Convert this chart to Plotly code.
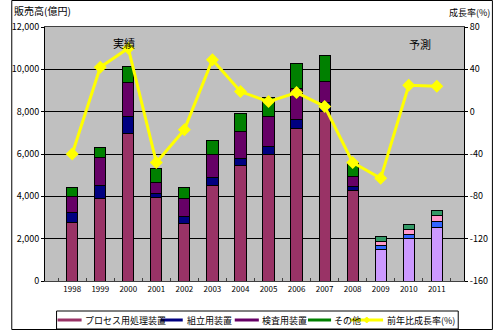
import plotly.graph_objects as go

years = ['1998', '1999', '2000', '2001', '2002', '2003', '2004',
         '2005', '2006', '2007', '2008', '2009', '2010', '2011']
forecast_years = ['2009', '2010', '2011']

process = [2780, 3900, 6970, 3940, 2740, 4520, 5440, 5990, 7210, 7990, 4260, 1500, 2000, 2550]
assembly = [440, 630, 820, 190, 330, 350, 350, 360, 440, 420, 220, 200, 190, 240]
inspection = [760, 1310, 1610, 520, 850, 1110, 1290, 1430, 1450, 1030, 470, 190, 250, 320]
other = [440, 470, 720, 680, 490, 680, 840, 880, 1180, 1230, 630, 190, 240, 240]
growth = [-40, 42, 60, -48, -17, 49, 19, 9.5, 18, 5, -48, -63, 25, 24]

names = ['プロセス用処理装置', '組立用装置', '検査用装置', 'その他']
line_name = '前年比成長率(%)'
actual_colors = ['#993366', '#000080', '#660066', '#008000']
forecast_colors = ['#cc99ff', '#3366ff', '#ff99cc', '#339966']

left_ticks = [0, 2000, 4000, 6000, 8000, 10000, 12000]
right_ticks = [-160, -120, -80, -40, 0, 40, 80]
right_labels = ['-160', '-120', '-80', '-40', '0', '40', '80']

FONT = 'Noto Sans CJK JP'

# plot area pixel geometry
L, R, T, B = 35, 470, 27, 281
W, H = 500, 330


def px(x):
    return (x - L) / (R - L)


def py(y):
    return (B - y) / (B - T)


fig = go.Figure()
series = [process, assembly, inspection, other]
for name, vals, ca, cf in zip(names, series, actual_colors, forecast_colors):
    cols = [cf if y in forecast_years else ca for y in years]
    fig.add_trace(go.Bar(
        x=years, y=vals, name=name, width=0.4,
        marker=dict(color=cols, line=dict(color='#000000', width=1)),
        showlegend=False,
    ))

fig.add_trace(go.Scatter(
    x=years, y=growth, name=line_name, yaxis='y2', mode='lines+markers',
    line=dict(color='#ffff00', width=3),
    marker=dict(symbol='diamond', size=10, color='#ffff00'),
    showlegend=False,
))

shapes = []
annotations = []

# outer border
shapes.append(dict(type='rect', xref='paper', yref='paper',
                   x0=px(0.5), x1=px(W - 0.5), y0=py(H - 0.5), y1=py(0.5),
                   line=dict(color='#000000', width=1)))

# custom legend (Excel-style line swatches)
shapes.append(dict(type='rect', xref='paper', yref='paper',
                   x0=px(47), x1=px(464), y0=py(329), y1=py(311),
                   line=dict(color='#000000', width=1), fillcolor='#ffffff', layer='above'))
legend_items = [
    (names[0], actual_colors[0], 48, 73, 74),
    (names[1], actual_colors[1], 155, 178, 180),
    (names[2], actual_colors[2], 232, 257, 258),
    (names[3], actual_colors[3], 308, 332, 333),
    (line_name, '#ffff00', 352, 386, 388),
]
ly = 320
for nm, col, x0, x1, tx in legend_items:
    shapes.append(dict(type='line', xref='paper', yref='paper',
                       x0=px(x0), x1=px(x1), y0=py(ly), y1=py(ly),
                       line=dict(color=col, width=3), layer='above'))
    annotations.append(dict(xref='paper', yref='paper', x=px(tx), y=py(ly),
                            text=nm, showarrow=False, xanchor='left', yanchor='middle',
                            font=dict(family=FONT, size=9, color='#000000')))
shapes.append(dict(type='path', xref='paper', yref='paper', layer='above',
                   path=f'M {px(369)},{py(317)} L {px(372)},{py(320)} L {px(369)},{py(323)} L {px(366)},{py(320)} Z',
                   fillcolor='#ffff00', line=dict(color='#ffff00', width=1)))

# titles / notes
annotations += [
    dict(xref='paper', yref='paper', x=px(1), y=py(11), text='販売高(億円)',
         showarrow=False, xanchor='left', yanchor='middle',
         font=dict(family=FONT, size=10, color='#000000')),
    dict(xref='paper', yref='paper', x=px(499), y=py(12), text='成長率(%)',
         showarrow=False, xanchor='right', yanchor='middle',
         font=dict(family=FONT, size=9, color='#000000')),
    dict(xref='paper', yref='paper', x=px(117), y=py(43), text='実績',
         showarrow=False, xanchor='center', yanchor='middle',
         font=dict(family=FONT, size=11, color='#000000')),
    dict(xref='paper', yref='paper', x=px(424), y=py(44), text='予測',
         showarrow=False, xanchor='center', yanchor='middle',
         font=dict(family=FONT, size=11, color='#000000')),
]

fig.update_layout(
    width=W, height=H,
    margin=dict(l=L, r=W - R, t=T, b=H - B),
    paper_bgcolor='#ffffff', plot_bgcolor='#c0c0c0',
    barmode='stack', showlegend=False,
    font=dict(family=FONT, size=9, color='#000000'),
    xaxis=dict(type='category', showgrid=False, showline=True, linecolor='#404040',
               linewidth=1, mirror=True, ticks='inside', tickson='boundaries',
               ticklen=3, tickcolor='#404040', tickangle=0, tickfont=dict(size=8),
               fixedrange=True),
    yaxis=dict(range=[0, 12000], tickvals=left_ticks, tickformat=',d',
               showgrid=True, gridcolor='#000000', gridwidth=1, zeroline=False,
               showline=True, linecolor='#000000', ticks='outside', ticklen=3,
               tickcolor='#000000', tickfont=dict(size=9)),
    yaxis2=dict(range=[-160, 80], overlaying='y', side='right',
                tickvals=right_ticks, ticktext=right_labels, showgrid=False,
                zeroline=False, showline=True, linecolor='#000000', ticks='outside',
                ticklen=3, tickcolor='#000000', tickfont=dict(size=9)),
    shapes=shapes, annotations=annotations,
)

fig.write_html('out.html')
